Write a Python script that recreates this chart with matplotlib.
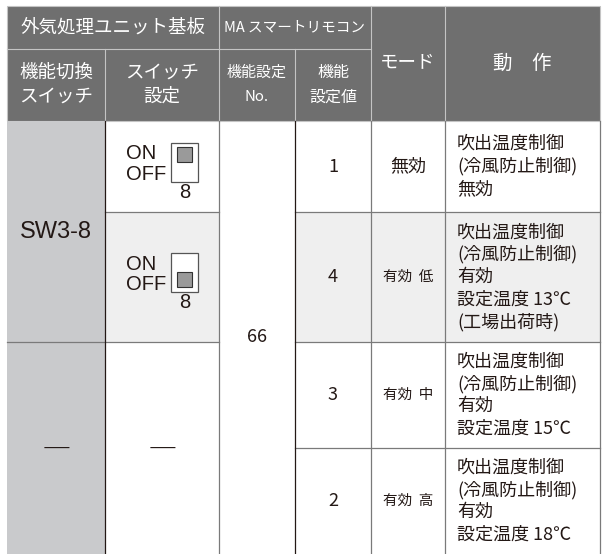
import matplotlib.pyplot as plt
from matplotlib.patches import Rectangle

# table contents
header_top = ["外気処理ユニット基板", "MA スマートリモコン"]
header_sub = ["機能切換\nスイッチ", "スイッチ\n設定", "機能設定\nNo.", "機能\n設定値"]
header_span = ["モード", "動　作"]
switch_names = ["SW3-8", "—"]
switch_states = ["ON", "OFF"]
switch_pin = "8"
func_no = "66"
func_values = ["1", "4", "3", "2"]
modes = ["無効", "有効  低", "有効  中", "有効  高"]
actions = [
    ["吹出温度制御", "(冷風防止制御)", "無効"],
    ["吹出温度制御", "(冷風防止制御)", "有効", "設定温度 13℃", "(工場出荷時)"],
    ["吹出温度制御", "(冷風防止制御)", "有効", "設定温度 15℃"],
    ["吹出温度制御", "(冷風防止制御)", "有効", "設定温度 18℃"],
]

# layout (pixels)
cols = [7, 105, 219, 295, 371, 445, 600]
top, hmid, hbot = 6, 49, 121
rows = [121, 212, 342, 448, 554]

JP = ['Noto Sans CJK JP', 'DejaVu Sans']
LAT = ['Liberation Sans', 'DejaVu Sans']
INK = '#231815'
HEAD = '#6f6f6f'
HLINE = '#c4c4c4'
GRID = '#7a7a7a'

fig = plt.figure(figsize=(6.07, 5.54), dpi=100)
ax = fig.add_axes([0, 0, 1, 1])
ax.set_xlim(0, 607)
ax.set_ylim(554, 0)
ax.axis('off')


def box(x0, y0, x1, y1, **kw):
    ax.add_patch(Rectangle((x0, y0), x1 - x0, y1 - y0, **kw))


def mid(a, b):
    return (a + b) / 2.0


# header
box(cols[0], top, cols[-1], hbot, facecolor=HEAD, edgecolor=HLINE, lw=0.8)
ax.plot([cols[0], cols[4]], [hmid, hmid], color=HLINE, lw=0.8)
for x in (cols[2], cols[4], cols[5]):
    ax.plot([x, x], [top, hbot], color=HLINE, lw=0.8)
for x in (cols[1], cols[3]):
    ax.plot([x, x], [hmid, hbot], color=HLINE, lw=0.8)

ax.text(mid(cols[0], cols[2]), mid(top, hmid), header_top[0], family=JP,
        fontsize=13.3, color='white', ha='center', va='center')
ax.text(mid(cols[2], cols[4]), mid(top, hmid), header_top[1], family=JP,
        fontsize=10.5, color='white', ha='center', va='center')
sub_sizes = [13.3, 13.3, 10.8, 11.5]
for i, lbl in enumerate(header_sub):
    lines = lbl.split("\n")
    for j, ln in enumerate(lines):
        ax.text(mid(cols[i], cols[i + 1]), mid(hmid, hbot) + (j - 0.5) * 24, ln,
                family=JP, fontsize=sub_sizes[i], color='white',
                ha='center', va='center')
ax.text(mid(cols[4], cols[5]), mid(top, hbot), header_span[0], family=JP,
        fontsize=13.3, color='white', ha='center', va='center')
ax.text(mid(cols[5], cols[6]), mid(top, hbot), header_span[1], family=JP,
        fontsize=14, color='white', ha='center', va='center')

# body fills
box(cols[0], rows[0], cols[1], rows[-1], facecolor='#c9cacc', lw=0)
for c0, c1 in [(1, 2), (3, 4), (4, 5), (5, 6)]:
    box(cols[c0], rows[1], cols[c1], rows[2], facecolor='#efefef', lw=0)

# body grid
ax.plot([cols[1], cols[2]], [rows[1], rows[1]], color=GRID, lw=0.9)
ax.plot([cols[3], cols[6]], [rows[1], rows[1]], color=GRID, lw=0.9)
ax.plot([cols[0], cols[2]], [rows[2], rows[2]], color=GRID, lw=0.9)
ax.plot([cols[3], cols[6]], [rows[2], rows[2]], color=GRID, lw=0.9)
ax.plot([cols[3], cols[6]], [rows[3], rows[3]], color=GRID, lw=0.9)
for k, x in enumerate(cols[1:]):
    c = INK if k in (0, 2) else GRID
    ax.plot([x, x], [rows[0], rows[-1]], color=c, lw=0.9)

# switch name column
ax.text(mid(cols[0], cols[1]), mid(rows[0], rows[2]), switch_names[0],
        family=LAT, fontsize=17, color=INK, ha='center', va='center')
ax.text(mid(cols[0], cols[1]), mid(rows[2], rows[4]), switch_names[1],
        family=['DejaVu Sans'], fontsize=20, color=INK, ha='center',
        va='center', fontweight='light')

# dip switch settings
for r, state in enumerate(switch_states):
    cx = mid(cols[1], cols[2])
    cy = mid(rows[r], rows[r + 1])
    ax.text(cx - 36, cy - 13, "ON", family=LAT, fontsize=14.5, color=INK,
            ha='left', va='center')
    ax.text(cx - 36, cy + 8, "OFF", family=LAT, fontsize=14.5, color=INK,
            ha='left', va='center')
    box(cx + 9, cy - 24, cx + 36, cy + 15, facecolor='white',
        edgecolor='#555555', lw=0.9)
    ky = cy - 20 if state == "ON" else cy - 5
    box(cx + 15, ky, cx + 30, ky + 15, facecolor='#9a9a9a',
        edgecolor='#333333', lw=0.8)
    ax.text(cx + 22.5, cy + 26, switch_pin, family=LAT, fontsize=14.5,
            color=INK, ha='center', va='center')
ax.text(mid(cols[1], cols[2]), mid(rows[2], rows[4]), switch_names[1],
        family=['DejaVu Sans'], fontsize=20, color=INK, ha='center',
        va='center', fontweight='light')

# function no.
ax.text(mid(cols[2], cols[3]), mid(rows[0], rows[-1]), func_no, family=JP,
        fontsize=13, color=INK, ha='center', va='center')

# values, modes, actions
for r in range(4):
    cy = mid(rows[r], rows[r + 1])
    ax.text(mid(cols[3], cols[4]), cy, func_values[r], family=JP, fontsize=13,
            color=INK, ha='center', va='center')
    ax.text(mid(cols[4], cols[5]), cy, modes[r], family=JP,
            fontsize=13 if r == 0 else 10.5, color=INK, ha='center',
            va='center')
    lines = actions[r]
    n = len(lines)
    for j, ln in enumerate(lines):
        ax.text(cols[5] + 12, cy + (j - (n - 1) / 2.0) * 22.4, ln, family=JP,
                fontsize=13, color=INK, ha='left', va='center')

fig.savefig('out.png', dpi=100)
